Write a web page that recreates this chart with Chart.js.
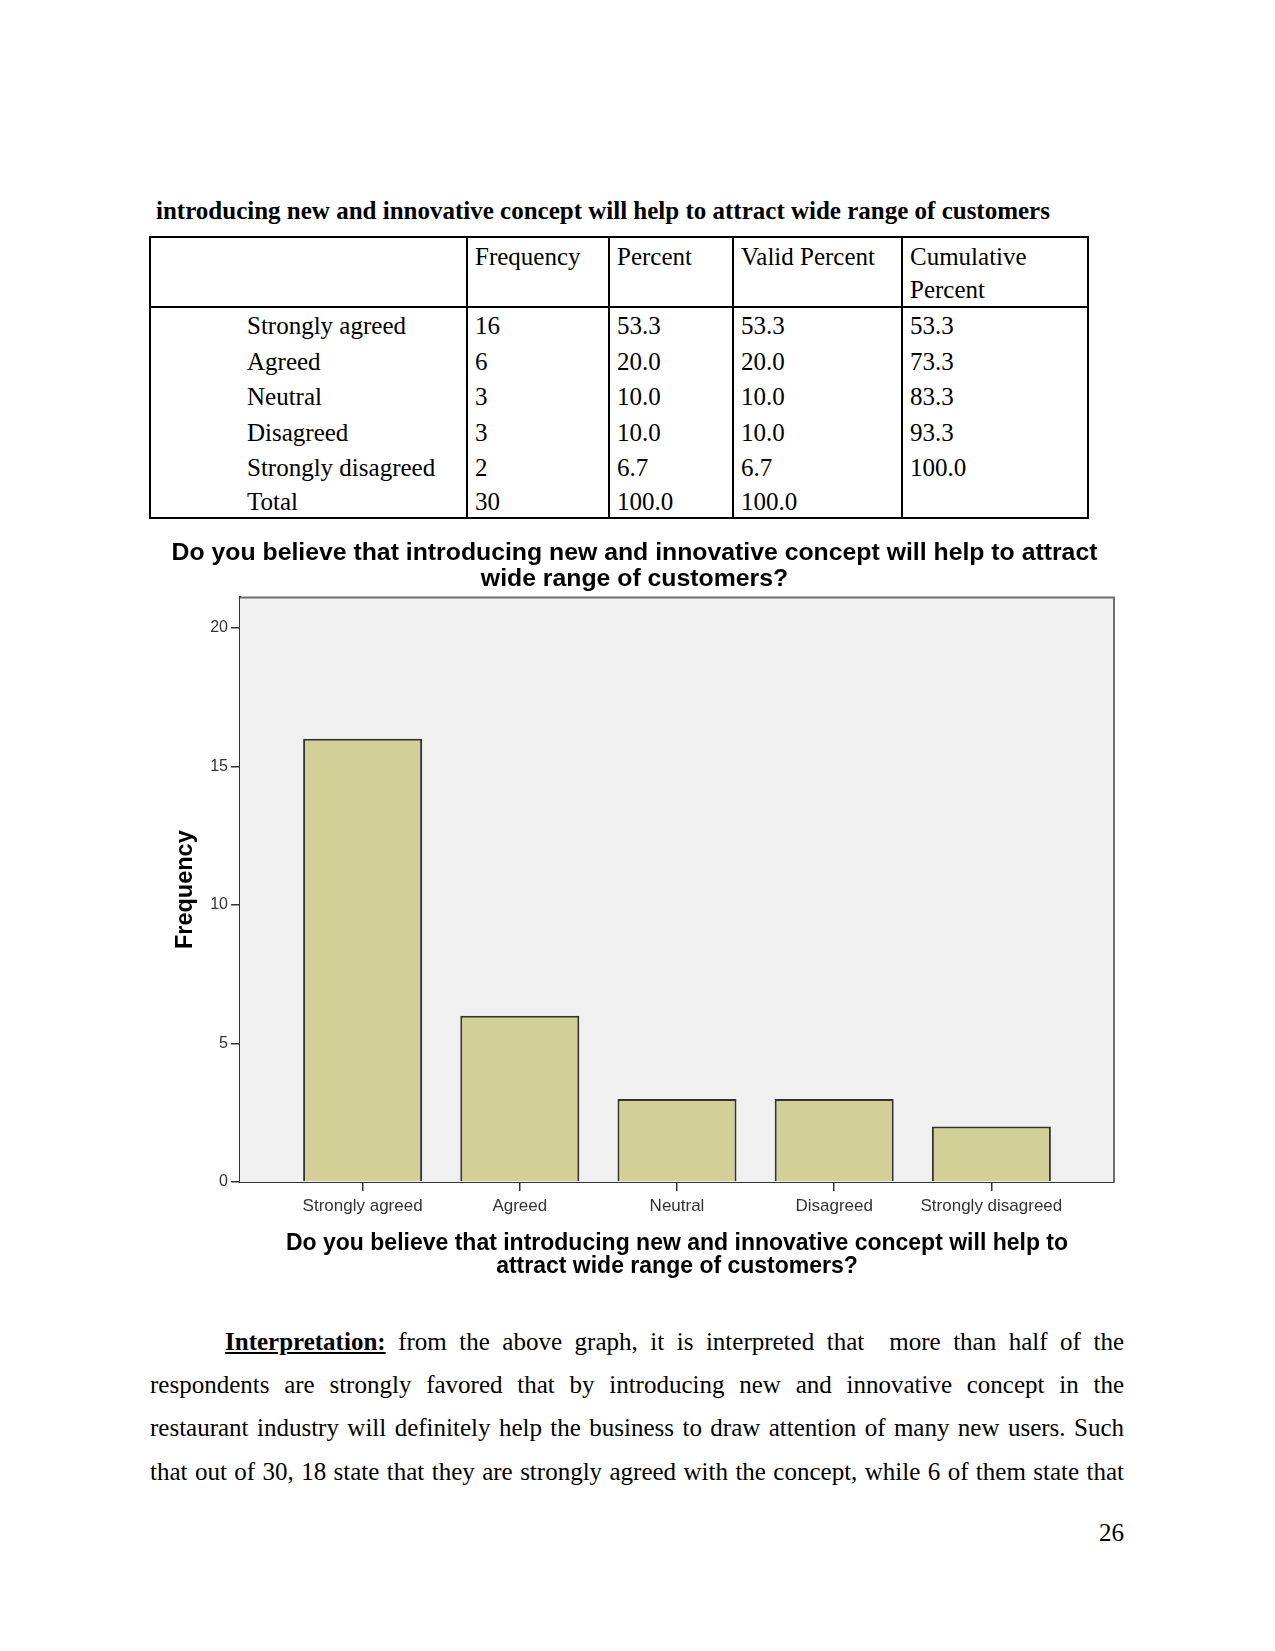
<!DOCTYPE html>
<html>
<head>
<meta charset="utf-8">
<script src="https://cdn.jsdelivr.net/npm/chart.js@4/dist/chart.umd.min.js"></script>
<style>
    body {
        margin: 0;
        background: #fff;
        width: 1275px;
        height: 1651px;
        position: relative;
        font-family: "Liberation Serif", "Times New Roman", serif;
        font-size: 25px;
        color: #000;
    }
    .caption {
        position: absolute;
        left: 156px;
        top: 196px;
        font-weight: bold;
        line-height: 30px;
    }
    table.freq {
        position: absolute;
        left: 149px;
        top: 236px;
        width: 938px;
        border-collapse: collapse;
        table-layout: fixed;
        border: 2px solid #000;
    }
    table.freq td {
        border-left: 2px solid #000;
        padding: 0 7px;
        line-height: 35.6px;
        vertical-align: top;
        white-space: nowrap;
    }
    table.freq td:first-child { border-left: none; padding-left: 96px; }
    table.freq tr.head td {
        line-height: 33px;
        padding-top: 2px;
        height: 66px;
        border-bottom: 2px solid #000;
    }
    table.freq tr.last td { line-height: 31px; }
    #chart-box {
        position: absolute;
        left: 155px;
        top: 530px;
        width: 965px;
        height: 750px;
    }
    .para {
        position: absolute;
        left: 150px;
        top: 1320px;
        width: 974px;
        line-height: 43.2px;
    }
    .para div {
        text-align: justify;
        text-align-last: justify;
    }
    .para .first { padding-left: 75px; }
    .page-num {
        position: absolute;
        left: 1060px;
        width: 64px;
        top: 1518px;
        text-align: right;
        line-height: 30px;
    }
</style>
</head>
<body>

<div class="caption">introducing new and innovative concept will help to attract wide range of customers</div>

<table class="freq" id="freq-table">
    <colgroup>
        <col style="width:317px">
        <col style="width:142px">
        <col style="width:124px">
        <col style="width:169px">
        <col style="width:186px">
    </colgroup>
    <tr class="head">
        <td></td>
        <td>Frequency</td>
        <td>Percent</td>
        <td>Valid Percent</td>
        <td>Cumulative<br>Percent</td>
    </tr>
</table>

<div id="chart-box"><canvas id="freq-chart" width="965" height="750"></canvas></div>

<div class="para">
    <div class="first"><b><u>Interpretation:</u></b> from the above graph, it is interpreted that &nbsp;more than half of the</div>
    <div>respondents are strongly favored that by introducing new and innovative concept in the</div>
    <div>restaurant industry will definitely help the business to draw attention of many new users. Such</div>
    <div>that out of 30, 18 state that they are strongly agreed with the concept, while 6 of them state that</div>
</div>

<div class="page-num">26</div>

<script>
// Данные опроса
const categories = ['Strongly agreed', 'Agreed', 'Neutral', 'Disagreed', 'Strongly disagreed'];
const frequencies = [16, 6, 3, 3, 2];
const percents = ['53.3', '20.0', '10.0', '10.0', '6.7'];
const validPercents = ['53.3', '20.0', '10.0', '10.0', '6.7'];
const cumulativePercents = ['53.3', '73.3', '83.3', '93.3', '100.0'];
const totalRow = ['Total', '30', '100.0', '100.0', ''];
const yTicks = [0, 5, 10, 15, 20];

const chartTitle = ['Do you believe that introducing new and innovative concept will help to attract', 'wide range of customers?'];
const xTitle = ['Do you believe that introducing new and innovative concept will help to', 'attract wide range of customers?'];

// Таблица частот
const table = document.getElementById('freq-table');
categories.forEach((c, i) => {
    const tr = document.createElement('tr');
    [c, frequencies[i], percents[i], validPercents[i], cumulativePercents[i]].forEach(v => {
        const td = document.createElement('td');
        td.textContent = v;
        tr.appendChild(td);
    });
    table.appendChild(tr);
});
const trTotal = document.createElement('tr');
trTotal.className = 'last';
totalRow.forEach(v => {
    const td = document.createElement('td');
    td.textContent = v;
    trTotal.appendChild(td);
});
table.appendChild(trTotal);

// Фон и рамка области графика
const plotFrame = {
    id: 'plotFrame',
    beforeDatasetsDraw(chart) {
        const a = chart.chartArea;
        const ctx = chart.ctx;
        ctx.save();
        ctx.fillStyle = '#f0f0f0';
        ctx.fillRect(a.left, a.top, a.right - a.left, a.bottom - a.top);
        ctx.strokeStyle = '#6e6e6e';
        ctx.lineWidth = 2;
        ctx.beginPath();
        ctx.moveTo(a.left, a.top);
        ctx.lineTo(a.right, a.top);
        ctx.lineTo(a.right, a.bottom);
        ctx.stroke();
        ctx.restore();
    }
};

const sansFont = 'Liberation Sans, Arial, sans-serif';

const ctx = document.getElementById('freq-chart').getContext('2d');
new Chart(ctx, {
    type: 'bar',
    data: {
        datasets: [{
            data: frequencies.map((v, i) => ({ x: i, y: v })),
            backgroundColor: '#d3d097',
            borderColor: '#333',
            borderWidth: 2,
            barPercentage: 1,
            categoryPercentage: 0.757
        }]
    },
    options: {
        responsive: false,
        animation: false,
        layout: { padding: { right: 6 } },
        plugins: {
            legend: { display: false },
            tooltip: { enabled: false },
            title: {
                display: true,
                text: chartTitle,
                color: '#000',
                font: { family: sansFont, size: 24.8, weight: 'bold', lineHeight: 1.02 },
                padding: { top: 11, bottom: 5.8 }
            }
        },
        scales: {
            x: {
                type: 'linear',
                offset: false,
                min: -0.78,
                max: 4.78,
                afterBuildTicks: s => { s.ticks = categories.map((c, i) => ({ value: i })); },
                afterFit: s => { s.height = 98; },
                ticks: {
                    callback: v => categories[v],
                    color: '#333',
                    padding: 5,
                    maxRotation: 0,
                    autoSkip: false,
                    font: { family: sansFont, size: 17 }
                },
                grid: { offset: false, drawOnChartArea: false, tickLength: 9, color: '#333', lineWidth: 1.5 },
                border: { color: '#333', width: 2 },
                title: {
                    display: true,
                    text: xTitle,
                    color: '#000',
                    font: { family: sansFont, size: 23, weight: 'bold', lineHeight: 1.0 },
                    padding: { top: 0, bottom: 1.5 }
                }
            },
            y: {
                min: 0,
                max: 21.1,
                afterBuildTicks: s => { s.ticks = yTicks.map(v => ({ value: v })); },
                afterFit: s => { s.width = 85; },
                ticks: {
                    color: '#333',
                    padding: 3,
                    font: { family: sansFont, size: 16 }
                },
                grid: { drawOnChartArea: false, tickLength: 9, color: '#333', lineWidth: 1.5 },
                border: { color: '#333', width: 2 },
                title: {
                    display: true,
                    text: 'Frequency',
                    color: '#000',
                    font: { family: sansFont, size: 23.5, weight: 'bold', lineHeight: 1.2 },
                    padding: { top: 16, bottom: 0 }
                }
            }
        }
    },
    plugins: [plotFrame]
});
</script>
</body>
</html>
